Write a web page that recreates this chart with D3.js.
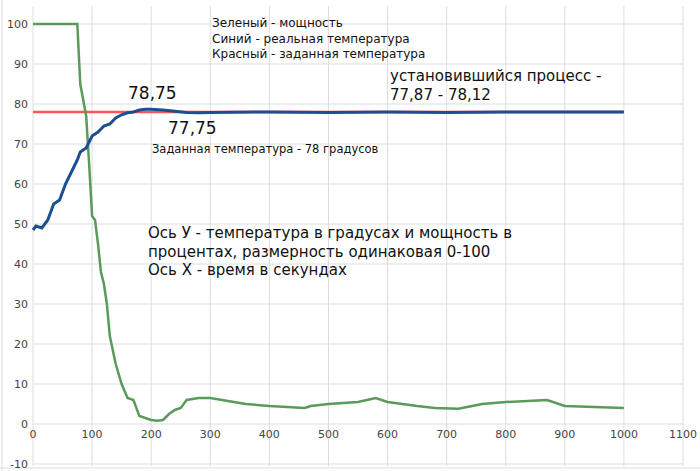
<!DOCTYPE html>
<html><head><meta charset="utf-8">
<script src="https://cdn.jsdelivr.net/npm/d3@7"></script>
<style>body{margin:0;background:#fff}text{font-family:"DejaVu Sans",sans-serif}</style>
</head><body><svg width="700" height="471"></svg>
<script>
var tempT = [0,5,15,25,35,45,55,65,75,80,90,100,110,120,130,140,150,160,170,180,190,200,220,240,260,280,300,400,500,600,700,800,900,1000];
var tempV = [48.5,49.5,49,51,55,56,60,63,66,68,69,72,73,74.5,75,76.5,77.3,77.8,78,78.5,78.7,78.7,78.5,78.2,77.9,77.8,77.9,78,77.9,78,77.9,78,78,78];
var powerT = [0,75,80,85,90,95,100,105,110,115,120,125,130,140,150,160,170,180,190,200,210,220,230,240,250,260,280,300,320,340,360,400,460,470,500,550,580,600,650,680,720,760,800,870,900,1000];
var powerV = [100,100,85,81,77,65,52,51,45,38,35,30,22,15,10,6.5,6,2,1.5,1,0.8,1,2.5,3.5,4,6,6.5,6.5,6,5.5,5,4.5,4,4.5,5,5.5,6.5,5.5,4.5,4,3.8,5,5.5,6,4.5,4];
var setT = [0,1000];
var setV = [78,78];
var xTicks = [0,100,200,300,400,500,600,700,800,900,1000,1100];
var yTicks = [-10,0,10,20,30,40,50,60,70,80,90,100];

var svg = d3.select("svg");
var x = d3.scaleLinear().domain([0,1100]).range([33,683]);
var y = d3.scaleLinear().domain([-10,100]).range([464,24]);

var grid = svg.append("g").attr("stroke","#ddd").attr("stroke-width",1);
grid.selectAll(".h").data(yTicks).enter().append("line")
  .attr("x1",33).attr("x2",683).attr("y1",function(d){return y(d);}).attr("y2",function(d){return y(d);});
grid.selectAll(".v").data(xTicks).enter().append("line")
  .attr("x1",function(d){return x(d);}).attr("x2",function(d){return x(d);}).attr("y1",6).attr("y2",466);
svg.append("line").attr("x1",2).attr("x2",2).attr("y1",0).attr("y2",471).attr("stroke","#ddd");
svg.append("line").attr("x1",0).attr("x2",700).attr("y1",468).attr("y2",468).attr("stroke","#ddd");

svg.append("g").selectAll("text").data(yTicks).enter().append("text")
  .attr("x",28).attr("y",function(d){return y(d);}).attr("dy","0.35em")
  .attr("text-anchor","end").attr("font-size",11).attr("fill","#444").text(function(d){return d;});
svg.append("g").selectAll("text").data(xTicks).enter().append("text")
  .attr("x",function(d){return x(d);}).attr("y",y(0)+14)
  .attr("text-anchor","middle").attr("font-size",11).attr("fill","#444").text(function(d){return d;});

var line = d3.line().x(function(d){return x(d[0]);}).y(function(d){return y(d[1]);});
svg.append("path").attr("d",line(d3.zip(setT,setV))).attr("fill","none").attr("stroke","#f55").attr("stroke-width",2.5);
svg.append("path").attr("d",line(d3.zip(powerT,powerV))).attr("fill","none").attr("stroke","#5a9a5a").attr("stroke-width",2.5);
svg.append("path").attr("d",line(d3.zip(tempT,tempV))).attr("fill","none").attr("stroke","#1c4f92").attr("stroke-width",3);

var notes = [
  [212,27,12,"Зеленый - мощность"],
  [212,43,12,"Синий - реальная температура"],
  [212,58,12,"Красный - заданная температура"],
  [390,81,15,"установившийся процесс -"],
  [390,100,15,"77,87 - 78,12"],
  [128,99,17,"78,75"],
  [168,134,17,"77,75"],
  [152,153,11.5,"Заданная температура - 78 градусов"],
  [148,238,15,"Ось У - температура в градусах и мощность в"],
  [148,257,15,"процентах, размерность одинаковая 0-100"],
  [148,275,15,"Ось Х - время в секундах"]
];
svg.append("g").selectAll("text").data(notes).enter().append("text")
  .attr("x",function(d){return d[0];}).attr("y",function(d){return d[1];})
  .attr("font-size",function(d){return d[2];}).attr("fill","#111").text(function(d){return d[3];});
</script></body></html>
